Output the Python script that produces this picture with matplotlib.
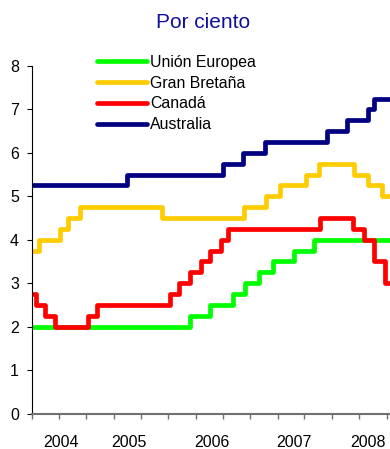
import matplotlib
matplotlib.use("Agg")
import matplotlib.pyplot as plt
import matplotlib.dates as mdates
import pandas as pd

plt.rcParams['font.family'] = ['Liberation Sans', 'DejaVu Sans']

# tasas de política monetaria: fecha del cambio y nuevo nivel (%)
ue_fechas = ["2004-01-01", "2005-12-06", "2006-03-08", "2006-06-15", "2006-08-09",
             "2006-10-11", "2006-12-13", "2007-03-14", "2007-06-13", "2008-06-30"]
ue_tasas = [2.00, 2.25, 2.50, 2.75, 3.00, 3.25, 3.50, 3.75, 4.00, 4.00]

gb_fechas = ["2004-01-01", "2004-02-05", "2004-05-06", "2004-06-10", "2004-08-05",
             "2005-08-04", "2006-08-03", "2006-11-09", "2007-01-11", "2007-05-10",
             "2007-07-05", "2007-12-06", "2008-02-07", "2008-04-10", "2008-06-30"]
gb_tasas = [3.75, 4.00, 4.25, 4.50, 4.75, 4.50, 4.75, 5.00, 5.25, 5.50,
            5.75, 5.50, 5.25, 5.00, 5.00]

ca_fechas = ["2004-01-01", "2004-01-20", "2004-03-02", "2004-04-13", "2004-09-08",
             "2004-10-19", "2005-09-07", "2005-10-18", "2005-12-06", "2006-01-24",
             "2006-03-07", "2006-04-25", "2006-05-24", "2007-07-10", "2007-12-04",
             "2008-01-22", "2008-03-04", "2008-04-22", "2008-06-30"]
ca_tasas = [2.75, 2.50, 2.25, 2.00, 2.25, 2.50, 2.75, 3.00, 3.25, 3.50,
            3.75, 4.00, 4.25, 4.50, 4.25, 4.00, 3.50, 3.00, 3.00]

au_fechas = ["2004-01-01", "2005-03-02", "2006-05-03", "2006-08-02", "2006-11-08",
             "2007-08-08", "2007-11-07", "2008-02-06", "2008-03-05", "2008-06-30"]
au_tasas = [5.25, 5.50, 5.75, 6.00, 6.25, 6.50, 6.75, 7.00, 7.25, 7.25]

anios = ["2004", "2005", "2006", "2007", "2008"]

series = [
    ("Unión Europea", ue_fechas, ue_tasas, "#00FF00"),
    ("Gran Bretaña", gb_fechas, gb_tasas, "#FFCC00"),
    ("Canadá", ca_fechas, ca_tasas, "#FF0000"),
    ("Australia", au_fechas, au_tasas, "#000080"),
]

fig = plt.figure(figsize=(3.9, 4.49), dpi=100)
ax = fig.add_axes([0.0808, 0.079, 0.9192, 0.774])

for nombre, fechas, tasas, color in series:
    ax.step(pd.to_datetime(fechas), tasas, where="post", color=color, lw=3.4,
            label=nombre, solid_capstyle="round", solid_joinstyle="round")

ax.set_ylim(0, 8)
ax.set_yticks(range(0, 9))
ax.set_xlim(pd.Timestamp("2004-01-01"), pd.Timestamp("2008-05-16"))

# marcas cada cuatro meses, etiquetas de año aparte
ax.xaxis.set_minor_locator(mdates.MonthLocator(bymonth=[1, 5, 9]))
pos_etiquetas = pd.to_datetime(["2004-05-12", "2005-03-11", "2006-03-13",
                                "2007-03-15", "2008-02-08"])
ax.set_xticks(pos_etiquetas)
ax.set_xticklabels(anios)
ax.tick_params(axis="x", which="major", length=0, pad=15.5, labelsize=11.5)
ax.tick_params(axis="x", which="minor", length=3.6, width=1, color="#707070", direction="out")
ax.tick_params(axis="y", length=3.6, width=0.8, direction="out", pad=5.5, labelsize=11.5)

for lado in ["top", "right"]:
    ax.spines[lado].set_visible(False)
ax.spines["left"].set_linewidth(0.8)
ax.spines["bottom"].set_color("#707070")
ax.spines["bottom"].set_linewidth(1.5)

fig.text(0.521, 0.972, "Por ciento", ha="center", va="top", fontsize=15, color="#10109A")

fig.legend(loc="upper left", bbox_to_anchor=(0.248, 0.878), frameon=False,
           fontsize=11.4, handlelength=3.16, handletextpad=0.21, labelspacing=0.37,
           borderpad=0, borderaxespad=0)

fig.savefig("out.png", dpi=100)
